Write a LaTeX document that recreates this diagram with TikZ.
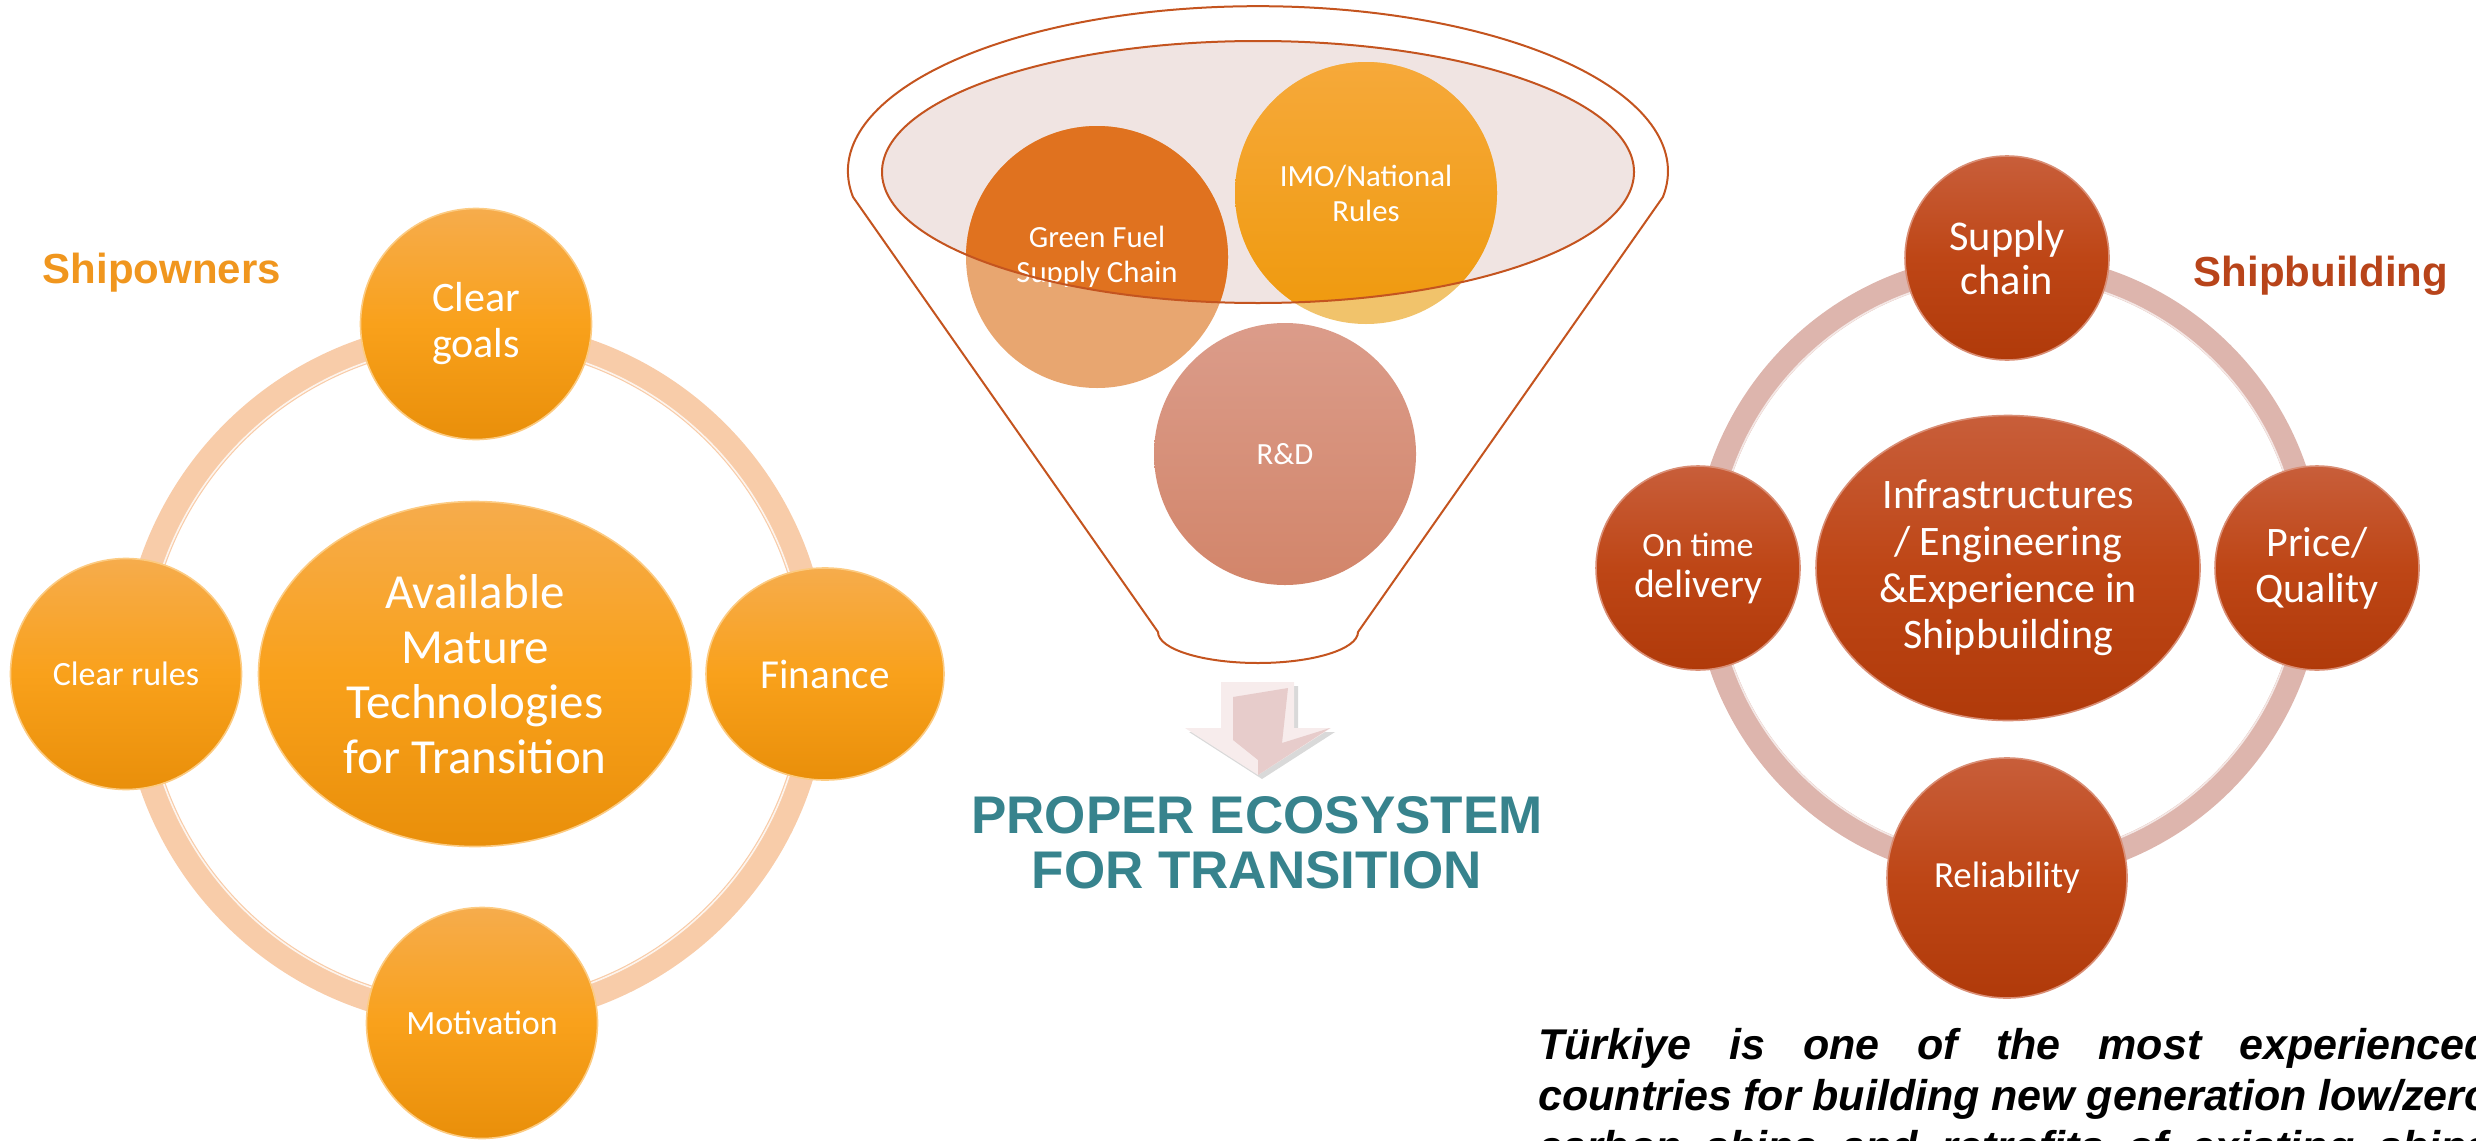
\documentclass[tikz,border=0pt]{standalone}
\usepackage{fontspec}
\setmainfont{Carlito}
\newfontfamily\headfont{Liberation Sans}
\usetikzlibrary{shapes.geometric,shadows}

\definecolor{ownlabel}{HTML}{F0961E}
\definecolor{owntop}{HTML}{F6AC4C}
\definecolor{ownmid}{HTML}{F9A11B}
\definecolor{ownbot}{HTML}{E98F0A}
\definecolor{ownring}{HTML}{F8CCA9}
\definecolor{buildlabel}{HTML}{B8441A}
\definecolor{buildtop}{HTML}{C85E3A}
\definecolor{buildmid}{HTML}{BE4616}
\definecolor{buildbot}{HTML}{B03A0A}
\definecolor{buildring}{HTML}{DDB5AD}
\definecolor{funnelline}{HTML}{C4541F}
\definecolor{funnelfill}{HTML}{F0E4E2}
\definecolor{greenhigh}{HTML}{E0721F}
\definecolor{greenlow}{HTML}{E8A670}
\definecolor{imotop}{HTML}{F6A93A}
\definecolor{imobot}{HTML}{EF990C}
\definecolor{imolow}{HTML}{F1C36B}
\definecolor{rdtop}{HTML}{DB9C8A}
\definecolor{rdbot}{HTML}{D2856A}
\definecolor{arrowpale}{HTML}{F7ECEC}
\definecolor{arrowpink}{HTML}{E7CCCB}
\definecolor{ecoteal}{HTML}{37838D}

\tikzstyle{bubble} = [ellipse, inner sep=0pt, align=center, text=white]
\tikzstyle{ownnode} = [bubble, top color=owntop, bottom color=ownbot, middle color=ownmid, draw=ownmid!55!white, line width=0.8pt]
\tikzstyle{buildnode} = [bubble, top color=buildtop, bottom color=buildbot, middle color=buildmid, draw=buildtop!70!white, line width=0.8pt]
\tikzstyle{funnelball} = [bubble, minimum size=131pt, font=\fontsize{15.4}{17.5}\selectfont]
\tikzstyle{sidelabel} = [anchor=base, inner sep=0pt, font=\headfont\bfseries\fontsize{21}{25}\selectfont]
\tikzstyle{ecolabel} = [anchor=base, inner sep=0pt, text=ecoteal, font=\headfont\bfseries\fontsize{26.5}{27.5}\selectfont]
\tikzstyle{noteline} = [anchor=base west, inner sep=0pt, font=\headfont\bfseries\itshape\fontsize{21.5}{25.5}\selectfont]

\begin{document}
\begin{tikzpicture}[x=0.5pt,y=-0.5pt]
\useasboundingbox (0,0) rectangle (2476,1140);
\clip (0,0) rectangle (2476,1140);

% shipowners
\draw[ownring, line width=13pt] (475,674) circle[radius=341];
\draw[white, line width=0.8pt, opacity=0.8] (475,674) circle[radius=330];
\node[ownnode, minimum width=216.5pt, minimum height=172.5pt, font=\fontsize{24.5}{27.5}\selectfont] (tech) at (475,674) {Available\\Mature\\Technologies\\for Transition};
\node[ownnode, minimum size=115.5pt, font=\fontsize{21}{23}\selectfont] (goals) at (476,324) {Clear\\goals};
\node[ownnode, minimum size=115.5pt, font=\fontsize{17}{20}\selectfont] (rules) at (126,674) {Clear rules};
\node[ownnode, minimum width=119pt, minimum height=106pt, font=\fontsize{20.6}{23}\selectfont] (finance) at (825,674) {Finance};
\node[ownnode, minimum size=115.5pt, font=\fontsize{17}{20}\selectfont] (motivation) at (482,1023) {Motivation};
\node[sidelabel, text=ownlabel] (shipowners) at (162,283) {Shipowners};

% funnel
\fill[funnelfill] (1258,172) ellipse[x radius=376, y radius=131];
\draw[funnelline, line width=1pt] (853,197) arc[start angle=171, end angle=369, x radius=410, y radius=165] -- (1358,632) arc[start angle=0, end angle=180, x radius=100, y radius=31] -- cycle;
\fill[greenlow] (1097,257) circle[radius=131];
\fill[imolow] (1366,193) circle[radius=131];
\shade[top color=rdtop, bottom color=rdbot] (1285,454) circle[radius=131];
\begin{scope}
\clip (1258,172) ellipse[x radius=376, y radius=131];
\fill[greenhigh] (1097,257) circle[radius=131];
\shade[top color=imotop, bottom color=imobot] (1366,193) circle[radius=131];
\end{scope}
\node[funnelball] (green) at (1097,257) {Green Fuel\\Supply Chain};
\node[funnelball] (imo) at (1366,193) {IMO/National\\Rules};
\node[funnelball] (rd) at (1285,454) {R\&D};
\draw[funnelline, line width=1pt] (1258,172) ellipse[x radius=376, y radius=131];

\path[fill=arrowpale, drop shadow={opacity=0.3, shadow xshift=2pt, shadow yshift=-2pt}] (1221,682) -- (1294,682) -- (1294,728) -- (1331,728) -- (1258,775) -- (1185,728) -- (1221,728) -- cycle;
\fill[arrowpink] (1233,697) -- (1288,688) -- (1282,743) -- (1330,728) -- (1258,775) -- (1258,760) -- (1233,740) -- cycle;
\node[ecolabel] (eco1) at (1257,833) {PROPER ECOSYSTEM};
\node[ecolabel] (eco2) at (1257,888) {FOR TRANSITION};

% shipbuilding
\draw[buildring, line width=12pt] (2008,568) circle[radius=303];
\draw[white, line width=0.8pt, opacity=0.7] (2008,568) circle[radius=292];
\node[buildnode, minimum width=192pt, minimum height=152.5pt, font=\fontsize{21}{23.4}\selectfont] (infra) at (2008,568) {Infrastructures\\/ Engineering\\\&Experience in\\Shipbuilding};
\node[buildnode, minimum size=102pt, font=\fontsize{21.2}{21.7}\selectfont] (supply) at (2007,258) {Supply\\chain};
\node[buildnode, minimum size=102pt, font=\fontsize{19.8}{20.5}\selectfont] (delivery) at (1698,568) {{\fontsize{17}{20.5}\selectfont On time}\\delivery};
\node[buildnode, minimum size=102pt, font=\fontsize{21}{23}\selectfont] (price) at (2317,568) {Price/\\Quality};
\node[buildnode, minimum size=120pt, font=\fontsize{18.4}{21}\selectfont] (reliability) at (2007,878) {Reliability};
\node[sidelabel, text=buildlabel] (shipbuilding) at (2321,286) {Shipbuilding};

\node[noteline] (note1) at (1538,1059) {\makebox[476pt][s]{Türkiye is one of the most experienced}};
\node[noteline] (note2) at (1538,1110) {\makebox[476pt][s]{countries for building new generation low/zero}};
\node[noteline] (note3) at (1538,1161) {\makebox[476pt][s]{carbon ships and retrofits of existing ships}};
\end{tikzpicture}
\end{document}
